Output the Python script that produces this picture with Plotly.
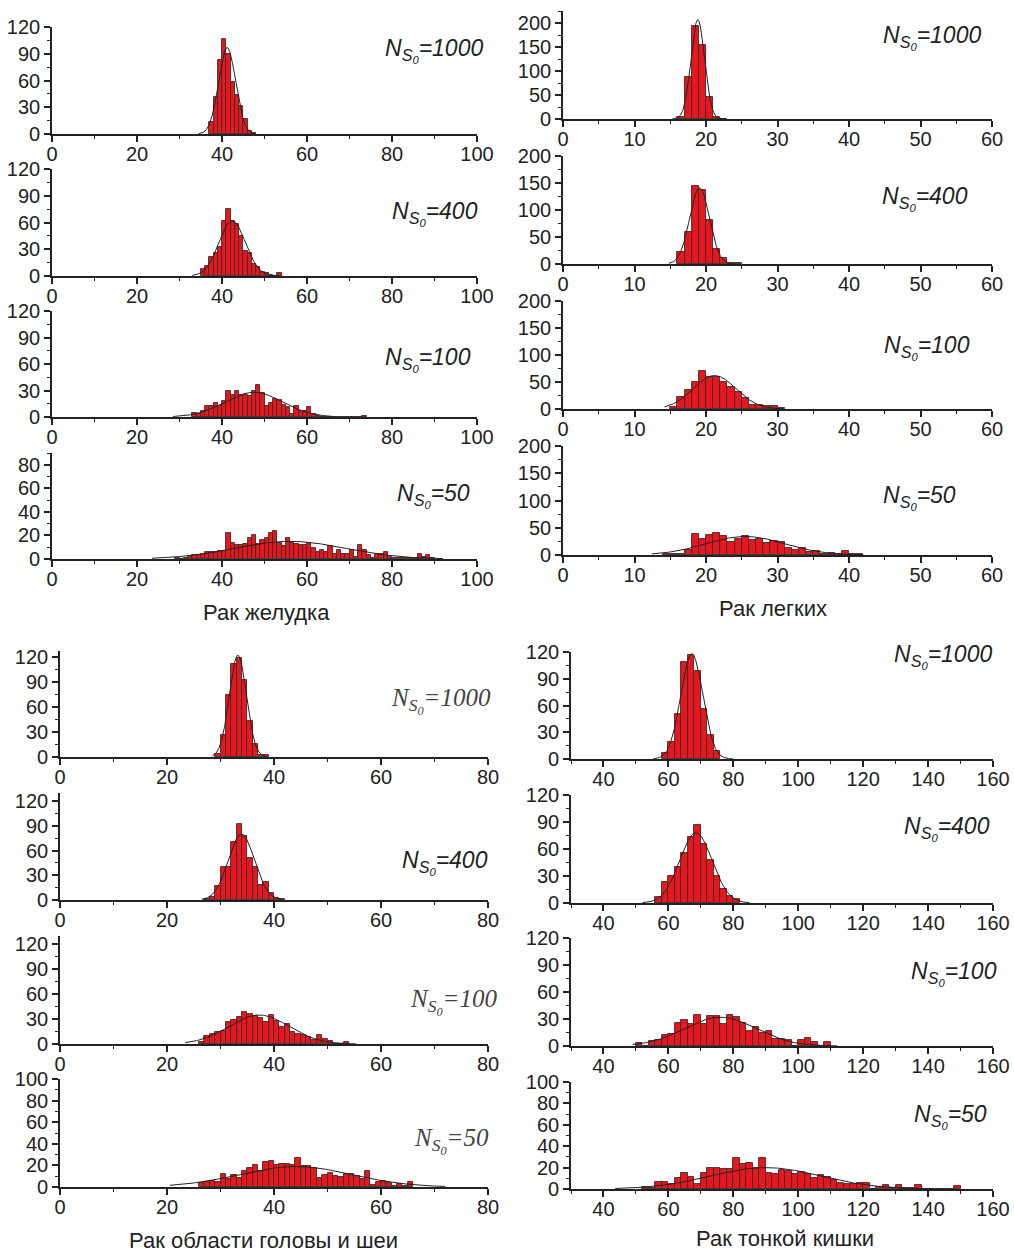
import numpy as np
import plotly.graph_objects as go

W, H = 1014, 1255

# ---------------- data (histogram counts) ----------------
# Рак желудка (bin width 1)
stomach_bin = 1
stomach_1000_start = 37
stomach_1000 = [13, 42, 83, 107, 90, 58, 44, 31, 17, 3, 1]
stomach_400_start = 35
stomach_400 = [8, 11, 21, 26, 33, 62, 75, 62, 58, 45, 28, 26, 14, 10, 5, 3, 1, 0, 3]
stomach_100_start = 33
stomach_100 = [5, 3, 7, 12, 12, 16, 12, 18, 29, 25, 30, 25, 25, 24, 30, 36, 27, 13, 16, 20,
               19, 14, 11, 3, 13, 7, 7, 11, 3, 1, 0, 0, 0, 0, 0, 0, 0, 0, 0, 0, 1]
stomach_50_start = 29
stomach_50 = [1, 0, 1, 2, 3, 3, 4, 6, 6, 6, 7, 7, 22, 14, 12, 12, 13, 18, 20, 13,
              16, 18, 22, 24, 14, 11, 18, 14, 13, 12, 12, 14, 9, 6, 8, 6, 11, 4, 8, 4,
              4, 8, 2, 12, 8, 3, 1, 4, 4, 6, 2, 1, 1, 1, 1, 1, 1, 4, 2, 3, 1]

# Рак легких (bin width 1)
lung_bin = 1
lung_1000_start = 16
lung_1000 = [4, 88, 193, 155, 45, 5, 1]
lung_400_start = 16
lung_400 = [23, 60, 145, 137, 82, 27, 11, 2, 1]
lung_100_start = 15
lung_100 = [4, 23, 36, 50, 70, 60, 60, 50, 40, 32, 21, 8, 8, 5, 6, 1]
lung_50_start = 14
lung_50 = [1, 1, 2, 10, 38, 29, 37, 40, 34, 23, 29, 35, 27, 30, 22, 26, 23, 13, 10, 13,
           5, 7, 2, 4, 2, 7, 1, 1]

# Рак области головы и шеи (bin width 1)
head_bin = 1
head_1000_start = 29
head_1000 = [4, 26, 74, 112, 119, 92, 43, 15, 2, 2]
head_400_start = 27
head_400 = [1, 4, 17, 40, 40, 70, 92, 78, 51, 40, 18, 22, 9, 3, 1]
head_100_start = 26
head_100 = [3, 10, 12, 14, 16, 27, 29, 33, 39, 36, 34, 31, 26, 35, 28, 21, 24, 14, 12, 11,
            8, 5, 11, 6, 4, 0, 0, 3]
head_50_start = 26
head_50 = [4, 5, 6, 5, 12, 7, 11, 8, 15, 18, 20, 15, 23, 24, 20, 21, 21, 20, 27, 19,
           19, 18, 8, 11, 13, 10, 9, 12, 12, 10, 7, 15, 2, 5, 6, 4, 1, 3, 1, 5]

# Рак тонкой кишки (bin width 2)
intest_bin = 2
intest_1000_start = 58
intest_1000 = [7, 19, 50, 109, 117, 99, 56, 27, 9]
intest_400_start = 56
intest_400 = [7, 23, 30, 40, 56, 73, 87, 66, 48, 30, 16, 8, 4]
intest_100_start = 50
intest_100 = [3, 0, 6, 7, 12, 13, 26, 29, 25, 35, 25, 33, 33, 24, 35, 32, 26, 17, 21, 15,
              17, 8, 8, 7, 0, 7, 9, 4, 0, 4]
intest_50_start = 52
intest_50 = [2, 1, 7, 7, 5, 10, 15, 11, 5, 15, 20, 20, 19, 19, 29, 23, 24, 20, 29, 15,
             14, 18, 17, 14, 16, 14, 10, 13, 11, 8, 6, 5, 5, 6, 6, 0, 2, 4, 1, 4,
             1, 1, 4, 0, 0, 0, 0, 0, 3]

# fitted normal curves: mean, sd, peak height, drawn from lo to hi
fit_mean = [41.2, 42.4, 47.5, 56.0,   18.85, 19.1, 21.2, 25.5,
            33.25, 33.9, 37.2, 44.0,  67.2, 68.5, 76.0, 90.0]
fit_sd   = [2.0, 3.1, 6.8, 13.0,      0.95, 1.38, 3.0, 5.5,
            1.6, 2.45, 5.6, 10.5,     3.4, 5.0, 11.0, 17.0]
fit_peak = [97, 62, 28, 15,           207, 141, 62, 34,
            122, 80, 35, 19,          118, 78, 32, 20]
fit_lo   = [34.5, 33.0, 28.5, 23.5,   15.3, 14.8, 14.2, 12.4,
            28.5, 26.5, 23.4, 20.5,   55.4, 52.0, 49.0, 43.6]
fit_hi   = [48.0, 54.0, 66.0, 92.0,   22.5, 24.0, 30.8, 42.0,
            38.5, 41.5, 55.4, 72.0,   80.0, 85.0, 112.0, 142.0]

sizes = ["1000", "400", "100", "50"]
group_titles = ["Рак желудка", "Рак легких", "Рак области головы и шеи", "Рак тонкой кишки"]

hist_data = [
    (stomach_1000_start, stomach_bin, stomach_1000), (stomach_400_start, stomach_bin, stomach_400),
    (stomach_100_start, stomach_bin, stomach_100), (stomach_50_start, stomach_bin, stomach_50),
    (lung_1000_start, lung_bin, lung_1000), (lung_400_start, lung_bin, lung_400),
    (lung_100_start, lung_bin, lung_100), (lung_50_start, lung_bin, lung_50),
    (head_1000_start, head_bin, head_1000), (head_400_start, head_bin, head_400),
    (head_100_start, head_bin, head_100), (head_50_start, head_bin, head_50),
    (intest_1000_start, intest_bin, intest_1000), (intest_400_start, intest_bin, intest_400),
    (intest_100_start, intest_bin, intest_100), (intest_50_start, intest_bin, intest_50),
]

# ---------------- layout (pixel boxes) ----------------
groups = [
    dict(xl=52, xr=477, xrange=[0, 100], xt0=0, xdt=20, xmin=10),
    dict(xl=563, xr=992, xrange=[0, 60], xt0=0, xdt=10, xmin=5),
    dict(xl=60, xr=488, xrange=[0, 80], xt0=0, xdt=20, xmin=10),
    dict(xl=571, xr=993, xrange=[30, 160], xt0=40, xdt=20, xmin=10),
]
# per panel: y top px, y bottom px, y max, y dtick, y minor
ybox = [
    (27, 134, 120, 30, 15), (169, 276, 120, 30, 15), (311, 417, 120, 30, 15), (453, 559, 90, 20, 10),
    (11, 119, 225, 50, 25), (156, 264, 200, 50, 25), (301, 409, 200, 50, 25), (446, 555, 200, 50, 25),
    (651, 757, 127, 30, 15), (793, 900, 130, 30, 15), (936, 1044, 130, 30, 15), (1079, 1187, 100, 20, 10),
    (652, 759, 120, 30, 15), (795, 903, 120, 30, 15), (938, 1046, 120, 30, 15), (1082, 1189, 100, 20, 10),
]
# N label: right edge px, centre y px, serif?
labels = [
    (485, 51, False), (480, 213, False), (473, 360, False), (472, 495, False),
    (983, 37, False), (970, 199, False), (972, 347, False), (958, 497, False),
    (493, 701, True), (490, 862, False), (499, 1002, True), (491, 1141, True),
    (994, 656, False), (992, 829, False), (999, 973, False), (989, 1116, False),
]
title_pos = [(266, 612), (773, 608), (263, 1240), (785, 1238)]

SANS = "Arial, 'Liberation Sans', sans-serif"
SERIF = "'Times New Roman', 'Liberation Serif', serif"

fig = go.Figure()
layout = {}
annotations = []

for i in range(16):
    g = groups[i // 4]
    ytop, ybot, ymax, ydt, ymin = ybox[i]
    n = i + 1
    xa = "xaxis" if n == 1 else f"xaxis{n}"
    ya = "yaxis" if n == 1 else f"yaxis{n}"
    xr = "x" if n == 1 else f"x{n}"
    yr = "y" if n == 1 else f"y{n}"

    start, w, counts = hist_data[i]
    centers = [start + k * w + w / 2 for k in range(len(counts))]
    fig.add_trace(go.Bar(x=centers, y=counts, width=w, xaxis=xr, yaxis=yr,
                         marker=dict(color="#e8161e", line=dict(color="#3a2a2a", width=0.9)),
                         showlegend=False))
    xs = np.linspace(fit_lo[i], fit_hi[i], 300)
    ys = fit_peak[i] * np.exp(-((xs - fit_mean[i]) ** 2) / (2 * fit_sd[i] ** 2))
    fig.add_trace(go.Scatter(x=xs, y=ys, mode="lines", xaxis=xr, yaxis=yr,
                             line=dict(color="#222222", width=1), showlegend=False))

    common = dict(showline=True, linecolor="#222", linewidth=1.6, ticks="outside",
                  ticklen=6, tickwidth=1.5, tickcolor="#222", showgrid=False,
                  zeroline=False, fixedrange=True, automargin=False,
                  tickfont=dict(family=SANS, size=20, color="#222"))
    layout[xa] = dict(domain=[g["xl"] / W, g["xr"] / W], anchor=yr, range=g["xrange"],
                      tick0=g["xt0"], dtick=g["xdt"], ticklabelstandoff=-5,
                      minor=dict(dtick=g["xmin"], tick0=0, ticks="outside", ticklen=3,
                                 tickwidth=1.2, tickcolor="#222"), **common)
    layout[ya] = dict(domain=[1 - ybot / H, 1 - ytop / H], anchor=xr, range=[0, ymax],
                      tick0=0, dtick=ydt,
                      minor=dict(dtick=ymin, tick0=0, ticks="outside", ticklen=3,
                                 tickwidth=1.2, tickcolor="#222"), **common)

    lx, ly, serif = labels[i]
    annotations.append(dict(
        xref="paper", yref="paper", x=lx / W, y=1 - ly / H, xanchor="right", yanchor="middle",
        text=f"<i>N<sub>S<sub>0</sub></sub>={sizes[i % 4]}</i>", showarrow=False,
        font=dict(family=SERIF if serif else SANS, size=25 if serif else 23,
                  color="#444" if serif else "#222")))

for k, (tx, ty) in enumerate(title_pos):
    annotations.append(dict(xref="paper", yref="paper", x=tx / W, y=1 - ty / H,
                            xanchor="center", yanchor="middle", text=group_titles[k],
                            showarrow=False, font=dict(family=SANS, size=22, color="#222")))

fig.update_layout(width=W, height=H, margin=dict(l=0, r=0, t=0, b=0, pad=0),
                  paper_bgcolor="white", plot_bgcolor="white", bargap=0,
                  barmode="overlay", annotations=annotations, **layout)

fig.write_html("out.html", config={"displayModeBar": False},
               post_script="document.body.style.margin='0';document.body.style.padding='0';"
                           "document.body.style.overflow='hidden';")
